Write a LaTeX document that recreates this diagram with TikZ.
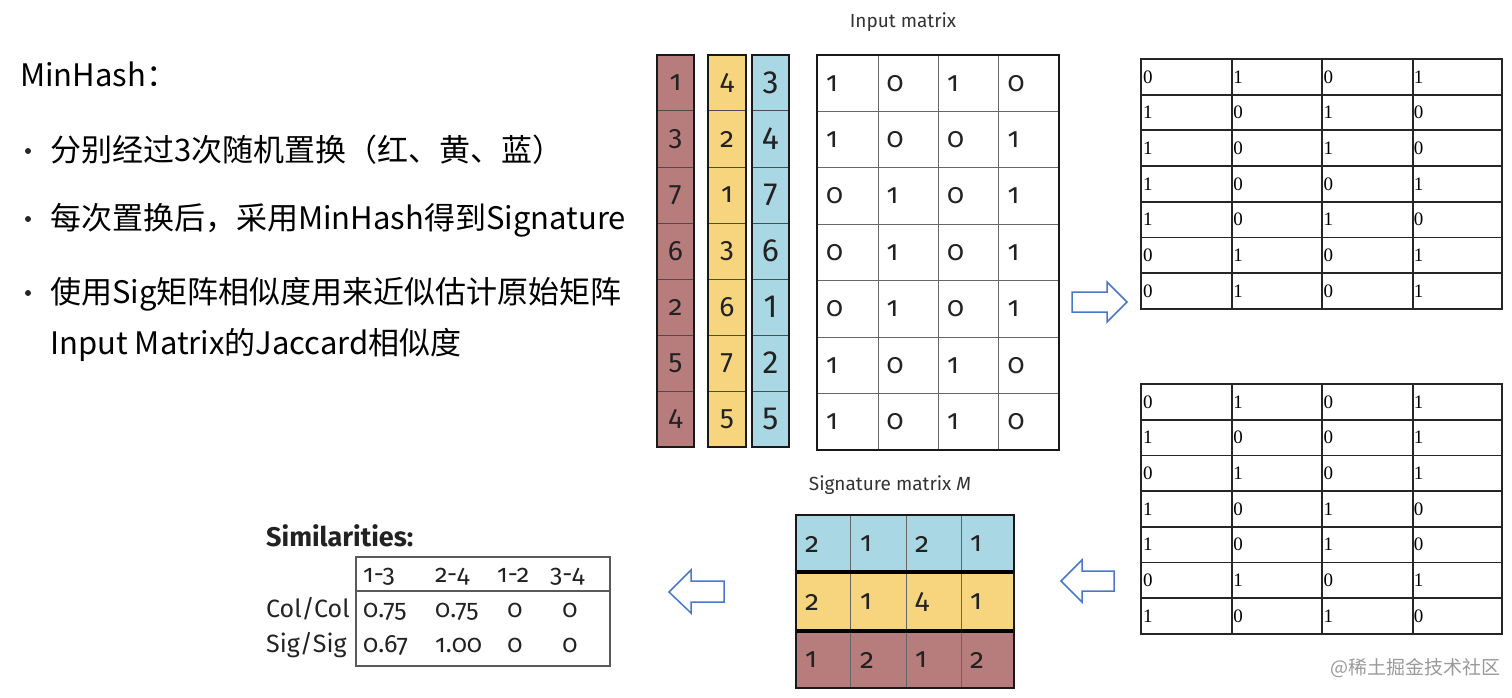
\documentclass[tikz,border=0pt]{standalone}
\usepackage{fontspec}
\setmainfont[Numbers=OldStyle]{Fira Sans}
\newfontfamily\cjk{Noto Sans CJK SC}
\newfontfamily\lining{Fira Sans}
\newfontfamily\tabfont{Liberation Serif}
\usetikzlibrary{positioning}

\definecolor{permred}{HTML}{B77D7C}
\definecolor{permyellow}{HTML}{F7D57F}
\definecolor{permblue}{HTML}{A9D7E3}
\definecolor{arrowblue}{HTML}{4A78C8}
\definecolor{inktext}{HTML}{222222}

\tikzset{
  bodytext/.style={anchor=base west, inner sep=0pt, text=black, font=\cjk\fontsize{31}{31}\selectfont},
  bulletmark/.style={circle, fill=black!85, inner sep=0pt, minimum size=6pt},
  permcell/.style={draw=black!70, line width=1pt, minimum width=37pt, minimum height=56pt,
    inner sep=0pt, text=inktext, font=\fontsize{28}{28}\selectfont},
  bigdigits/.style={font=\lining\fontsize{32}{32}\selectfont},
  outline/.style={line width=2.5pt, draw=black!90},
  cellline/.style={line width=1pt, draw=black!60},
  incell/.style={anchor=west, inner sep=0pt, text=inktext, font=\fontsize{28}{28}\selectfont},
  caption/.style={inner sep=0pt, text=black!80, font=\fontsize{19}{19}\selectfont},
  tabline/.style={line width=1.8pt, draw=black!85},
  tabcell/.style={anchor=west, inner sep=0pt, text=black, font=\tabfont\fontsize{19}{19}\selectfont},
  simtext/.style={anchor=base west, inner sep=0pt, text=inktext, font=\fontsize{25}{25}\selectfont},
  simline/.style={line width=1.5pt, draw=black!65},
  blockarrow/.style={draw=arrowblue, line width=1.5pt, fill=white, line join=miter}
}

\begin{document}
\begin{tikzpicture}[x=1pt,y=-1pt]
\useasboundingbox (0,0) rectangle (1512,698);

% bullet text on the left
\node[bodytext] (title) at (20,87) {MinHash：};
\node[bulletmark] (b1) at (28,151) {};
\node[bodytext] (t1) at (50,161) {分别经过3次随机置换（红、黄、蓝）};
\node[bulletmark] (b2) at (28,219) {};
\node[bodytext] (t2) at (50,229) {每次置换后，采用MinHash得到Signature};
\node[bulletmark] (b3) at (28,293) {};
\node[bodytext] (t3) at (50,303) {使用Sig矩阵相似度用来近似估计原始矩阵};
\node[bodytext] (t4) at (50,354) {Input Matrix的Jaccard相似度};

% three permutations
\foreach \v [count=\i] in {1,3,7,6,2,5,4}
  \node[permcell, fill=permred] (red-\i) at (675.5,27+56*\i) {\v};
\foreach \v [count=\i] in {4,2,1,3,6,7,5}
  \node[permcell, fill=permyellow] (yel-\i) at (727,27+56*\i) {\v};
\foreach \v [count=\i] in {3,4,7,6,1,2,5}
  \node[permcell, fill=permblue, bigdigits] (blu-\i) at (770.5,27+56*\i) {\v};
\draw[outline] (657,55) rectangle (694,447);
\draw[outline] (708,55) rectangle (746,447);
\draw[outline] (752,55) rectangle (789,447);

% input matrix
\node[caption] (intitle) at (903,22) {Input matrix};
\foreach \x in {878,938,998}
  \draw[cellline] (\x,55) -- (\x,450);
\foreach \r in {1,...,6}
  \draw[cellline] (817,55+56.4*\r) -- (1059,55+56.4*\r);
\draw[outline] (817,55) rectangle (1059,450);
\foreach \row [count=\r] in {{1,0,1,0},{1,0,0,1},{0,1,0,1},{0,1,0,1},{0,1,0,1},{1,0,1,0},{1,0,1,0}}
  \foreach \v [count=\c] in \row
    \node[incell] (in-\r-\c) at (826+60.5*\c-60.5,55+56.4*\r-28.2) {\v};

% signature tables, one per hash
\foreach \top/\name in {59/sa,384/sb} {
  \foreach \x in {1232,1322,1413}
    \draw[tabline] (\x,\top) -- (\x,\top+250);
  \foreach \r in {1,...,6}
    \draw[tabline] (1141,\top+35.7*\r) -- (1502,\top+35.7*\r);
  \draw[tabline] (1141,\top) rectangle (1502,\top+250);
}
\foreach \row [count=\r] in {{0,1,0,1},{1,0,1,0},{1,0,1,0},{1,0,0,1},{1,0,1,0},{0,1,0,1},{0,1,0,1}}
  \foreach \v [count=\c] in \row
    \node[tabcell] (sa-\r-\c) at (1143+90.25*\c-90.25,59+35.7*\r-17.85) {\v};
\foreach \row [count=\r] in {{0,1,0,1},{1,0,0,1},{0,1,0,1},{1,0,1,0},{1,0,1,0},{0,1,0,1},{1,0,1,0}}
  \foreach \v [count=\c] in \row
    \node[tabcell] (sb-\r-\c) at (1143+90.25*\c-90.25,384+35.7*\r-17.85) {\v};

% signature matrix M
\node[caption] (sigtitle) at (890,485) {Signature matrix \textit{M}};
\fill[permblue] (796,515) rectangle (1014,572);
\fill[permyellow] (796,572) rectangle (1014,631);
\fill[permred] (796,631) rectangle (1014,688);
\foreach \x in {850,906,961}
  \draw[cellline] (\x,515) -- (\x,688);
\draw[line width=4pt] (796,572) -- (1014,572);
\draw[line width=4pt] (796,631) -- (1014,631);
\draw[outline] (796,515) rectangle (1014,688);
\foreach \row/\y [count=\r] in {{2,1,2,1}/544,{2,1,4,1}/602,{1,2,1,2}/660}
  \foreach \v [count=\c] in \row
    \node[incell] (sig-\r-\c) at (805+55*\c-55,\y) {\v};

% similarities
\node[simtext, font=\bfseries\fontsize{27}{27}\selectfont] (simtitle) at (266,546) {Similarities:};
\draw[simline] (356,557) rectangle (610,666);
\draw[simline] (356,591) -- (610,591);
\node[simtext] (h13) at (363,582) {1-3};
\node[simtext] (h24) at (435,582) {2-4};
\node[simtext] (h12) at (497,582) {1-2};
\node[simtext] (h34) at (550,582) {3-4};
\node[simtext] (colcol) at (266,617) {Col/Col};
\node[simtext] (sigsig) at (266,652) {Sig/Sig};
\node[simtext] (cc13) at (363,617) {0.75};
\node[simtext] (cc24) at (435,617) {0.75};
\node[simtext, anchor=base] (cc12) at (515,617) {0};
\node[simtext, anchor=base] (cc34) at (570,617) {0};
\node[simtext] (ss13) at (363,652) {0.67};
\node[simtext] (ss24) at (435,652) {1.00};
\node[simtext, anchor=base] (ss12) at (515,652) {0};
\node[simtext, anchor=base] (ss34) at (570,652) {0};

% block arrows
\draw[blockarrow] (1072,292) -- (1107,292) -- (1107,282) -- (1127,302) -- (1107,322) -- (1107,312) -- (1072,312) -- cycle;
\draw[blockarrow] (1114,571) -- (1082,571) -- (1082,560) -- (1061,581) -- (1082,602) -- (1082,591) -- (1114,591) -- cycle;
\draw[blockarrow] (724,581) -- (691,581) -- (691,570) -- (669,592) -- (691,613) -- (691,602) -- (724,602) -- cycle;

% watermark
\node[anchor=west, inner sep=0pt, text=black!40, font=\cjk\fontsize{19}{19}\selectfont] (mark) at (1330,668) {@稀土掘金技术社区};
\end{tikzpicture}
\end{document}
